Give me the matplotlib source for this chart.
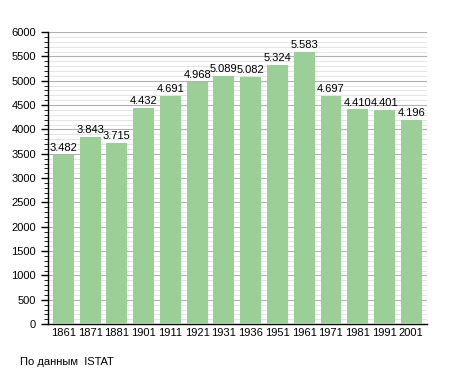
import matplotlib
matplotlib.use('Agg')
import matplotlib.pyplot as plt
from matplotlib.ticker import MultipleLocator
import numpy as np

years = ['1861', '1871', '1881', '1901', '1911', '1921', '1931', '1936',
         '1951', '1961', '1971', '1981', '1991', '2001']
pop = [3482, 3843, 3715, 4432, 4691, 4968, 5089, 5082, 5324, 5583, 4697, 4410, 4401, 4196]
labels = ['3.482', '3.843', '3.715', '4.432', '4.691', '4.968', '5.089', '5.082',
          '5.324', '5.583', '4.697', '4.410', '4.401', '4.196']

plt.rcParams['font.family'] = ['Liberation Sans', 'DejaVu Sans']

fig = plt.figure(figsize=(4.55, 3.73), dpi=100)
ax = fig.add_axes([0.105, 0.131, 0.833, 0.783])

x = np.arange(len(years))
ax.bar(x, pop, width=0.78, color='#9ccf98', zorder=3)
for i in range(len(x)):
    ax.text(x[i], pop[i] + 40, labels[i], ha='center', va='bottom', fontsize=8, zorder=4)

ax.set_xlim(-0.58, len(years) - 0.42)
ax.set_ylim(0, 6000)
ax.set_xticks(x)
ax.set_xticklabels(years, fontsize=8)
ax.yaxis.set_major_locator(MultipleLocator(500))
ax.yaxis.set_minor_locator(MultipleLocator(100))
ax.tick_params(axis='y', labelsize=8, length=5, width=1)
ax.tick_params(axis='y', which='minor', length=3)
ax.tick_params(axis='x', length=0, pad=3)
ax.grid(axis='y', which='major', color='#b0b0b0', lw=0.8, zorder=0)
ax.grid(axis='y', which='minor', color='#e0e0e0', lw=0.6, zorder=0)
for s in ['top', 'right']:
    ax.spines[s].set_visible(False)
ax.spines['left'].set_linewidth(1)
ax.spines['bottom'].set_linewidth(1)

fig.text(0.044, 0.03, 'По данным  ISTAT', fontsize=8, ha='left', va='center')

fig.savefig('out.png', dpi=100)
